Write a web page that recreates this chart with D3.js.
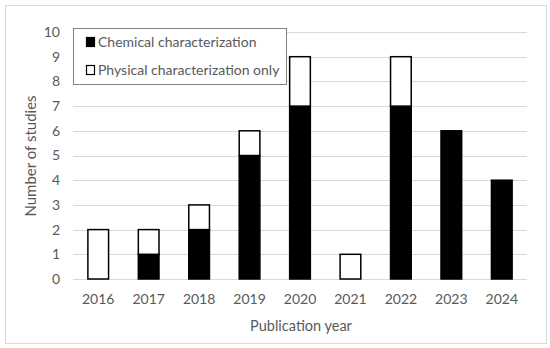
<!DOCTYPE html>
<html>
<head>
<meta charset="utf-8">
<script src="https://cdn.jsdelivr.net/npm/d3@7"></script>
<style>
body { margin: 0; background: #fff; }
text { font-family: Lato, "Open Sans", sans-serif; fill: #595959; }
</style>
</head>
<body>
<div class="content"></div>
<script>
const w = 550;
const h = 348;

const years = ['2016', '2017', '2018', '2019', '2020', '2021', '2022', '2023', '2024'];
const chemical = [0, 1, 2, 5, 7, 0, 7, 6, 4];
const physical = [2, 1, 1, 1, 2, 1, 2, 0, 0];
const yTicks = [0, 1, 2, 3, 4, 5, 6, 7, 8, 9, 10];
const seriesNames = ['Chemical characterization', 'Physical characterization only'];

const rows = years.map((y, i) => ({ year: y, chem: chemical[i], phys: physical[i] }));

const svg = d3.select('.content').append('svg')
	.attr('width', w)
	.attr('height', h);

// chart frame
svg.append('rect')
	.attr('x', 5.5).attr('y', 5.5)
	.attr('width', 541).attr('height', 338)
	.attr('fill', 'none')
	.attr('stroke', '#d9d9d9');

const x = d3.scaleBand()
	.domain(years)
	.range([73, 527])
	.paddingInner(0.59)
	.paddingOuter(0.295);

const y = d3.scaleLinear()
	.domain([0, 10])
	.range([279, 32]);

// gridlines
svg.append('g')
	.selectAll('line')
	.data(yTicks)
	.enter()
	.append('line')
	.attr('x1', 73).attr('x2', 527)
	.attr('y1', d => Math.round(y(d)) + 0.5)
	.attr('y2', d => Math.round(y(d)) + 0.5)
	.attr('stroke', '#d9d9d9')
	.attr('stroke-width', 1);

// y axis labels
const yAxis = svg.append('g')
	.attr('transform', 'translate(73,0)')
	.call(d3.axisLeft(y).tickValues(yTicks).tickSize(0).tickPadding(13));
yAxis.select('.domain').remove();
yAxis.selectAll('text').style('font-size', '14px').attr('fill', '#595959');

// x axis labels
const xAxis = svg.append('g')
	.attr('transform', 'translate(0,279)')
	.call(d3.axisBottom(x).tickSize(0).tickPadding(15));
xAxis.select('.domain').remove();
xAxis.selectAll('text').style('font-size', '14px').attr('fill', '#595959');

// stacked bars
const bars = svg.append('g');
bars.selectAll('rect.chem')
	.data(rows.filter(d => d.chem > 0))
	.enter()
	.append('rect')
	.attr('class', 'chem')
	.attr('x', d => x(d.year))
	.attr('y', d => y(d.chem))
	.attr('width', x.bandwidth())
	.attr('height', d => y(0) - y(d.chem))
	.attr('fill', '#000')
	.attr('stroke', '#000')
	.attr('stroke-width', 1.5);

bars.selectAll('rect.phys')
	.data(rows.filter(d => d.phys > 0))
	.enter()
	.append('rect')
	.attr('class', 'phys')
	.attr('x', d => x(d.year))
	.attr('y', d => y(d.chem + d.phys))
	.attr('width', x.bandwidth())
	.attr('height', d => y(d.chem) - y(d.chem + d.phys))
	.attr('fill', '#fff')
	.attr('stroke', '#000')
	.attr('stroke-width', 1.5);

// axis titles
svg.append('text')
	.attr('transform', 'translate(36,156) rotate(-90)')
	.attr('text-anchor', 'middle')
	.style('font-size', '15px')
	.text('Number of studies');

svg.append('text')
	.attr('x', 301)
	.attr('y', 331)
	.attr('text-anchor', 'middle')
	.style('font-size', '14.5px')
	.text('Publication year');

// legend
const legend = svg.append('g');
legend.append('rect')
	.attr('x', 73.5).attr('y', 28.5)
	.attr('width', 213).attr('height', 56)
	.attr('fill', '#fff')
	.attr('stroke', '#7f7f7f');

const items = legend.selectAll('g.item')
	.data(seriesNames)
	.enter()
	.append('g')
	.attr('transform', (d, i) => `translate(86,${42 + i * 28})`);

items.append('rect')
	.attr('x', 0.5).attr('y', -4.5)
	.attr('width', 8).attr('height', 9)
	.attr('fill', (d, i) => i === 0 ? '#000' : '#fff')
	.attr('stroke', '#000')
	.attr('stroke-width', 1.2);

items.append('text')
	.attr('x', 12)
	.attr('dy', '0.35em')
	.style('font-size', '14px')
	.text(d => d);
</script>
</body>
</html>
